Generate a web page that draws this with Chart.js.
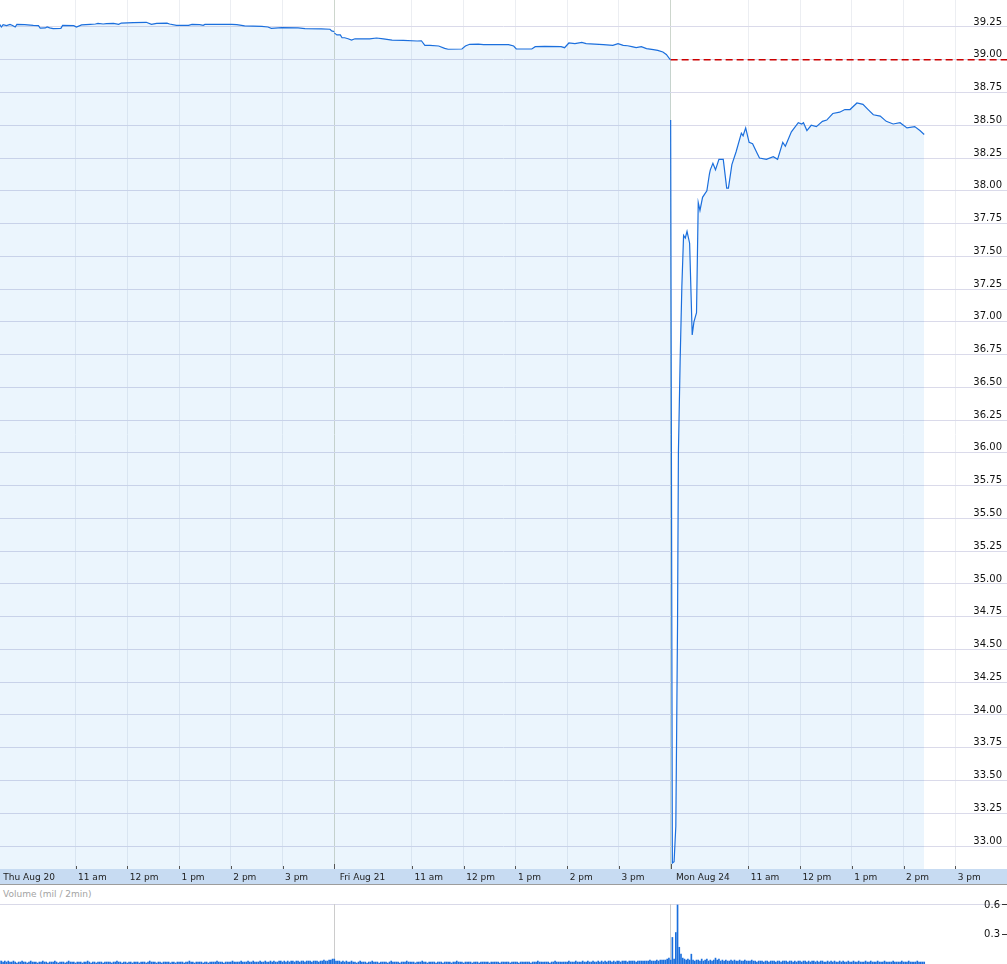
<!DOCTYPE html>
<html>
<head>
<meta charset="utf-8">
<script src="https://cdn.jsdelivr.net/npm/chart.js@4.4.1/dist/chart.umd.min.js"></script>
<style>
  body { margin: 0; background: #fff; }
  #wrap { position: relative; width: 1007px; height: 964px; overflow: hidden; font-family: 'DejaVu Sans', Verdana, sans-serif; }
  #priceChart { position: absolute; left: 0; top: 0; }
  #volTitle { position: absolute; left: 3px; top: 888px; font-size: 9px; line-height: 12px; color: #a3a3a3; }
  #volLine { position: absolute; left: 0; top: 904px; width: 1007px; height: 1px; background: #d9d9e8; }
  #volChart { position: absolute; left: 0; top: 890px; }
</style>
</head>
<body>
<div id="wrap">
  <canvas id="priceChart" width="1007" height="885"></canvas>
  <div id="volTitle">Volume (mil / 2min)</div>
  <div id="volLine"></div>
  <canvas id="volChart" width="1007" height="74"></canvas>
</div>
<script>
const days = ['Thu', 'Fri', 'Mon'];

const tickTimes = ['Thu 9:30', 'Thu 11:00', 'Thu 12:00', 'Thu 13:00', 'Thu 14:00', 'Thu 15:00',
  'Fri 9:30', 'Fri 11:00', 'Fri 12:00', 'Fri 13:00', 'Fri 14:00', 'Fri 15:00',
  'Mon 9:30', 'Mon 11:00', 'Mon 12:00', 'Mon 13:00', 'Mon 14:00', 'Mon 15:00'];
const tickLabels = ['Thu Aug 20', '11 am', '12 pm', '1 pm', '2 pm', '3 pm',
  'Fri Aug 21', '11 am', '12 pm', '1 pm', '2 pm', '3 pm',
  'Mon Aug 24', '11 am', '12 pm', '1 pm', '2 pm', '3 pm'];
const dayTimes = ['Thu 9:30', 'Fri 9:30', 'Mon 9:30'];

const priceTicks = [33.00, 33.25, 33.50, 33.75, 34.00, 34.25, 34.50, 34.75, 35.00, 35.25, 35.50, 35.75, 36.00,
  36.25, 36.50, 36.75, 37.00, 37.25, 37.50, 37.75, 38.00, 38.25, 38.50, 38.75, 39.00, 39.25];
const volumeTicks = [0.3, 0.6];
const prevClose = 39.00;

// price, Thu Aug 20
const thuTimes = ['9:32', '9:34', '9:36', '9:40', '9:44', '9:47', '9:50', '9:52', '10:01', '10:11', '10:17', '10:19',
  '10:25', '10:27', '10:30', '10:34', '10:43', '10:45', '10:58', '11:01', '11:07', '11:17', '11:23', '11:26', '11:32',
  '11:36', '11:44', '11:50', '11:53', '12:07', '12:22', '12:28', '12:34', '12:46', '12:49', '12:57', '13:11', '13:15',
  '13:24', '13:28', '13:30', '14:01', '14:07', '14:16', '14:36', '14:43', '14:47', '14:59', '15:18', '15:26', '15:45',
  '15:55', '15:57', '16:00'];
const thuPrices = [39.270, 39.250, 39.268, 39.260, 39.270, 39.262, 39.250, 39.270, 39.268, 39.262, 39.260, 39.242,
  39.243, 39.250, 39.243, 39.237, 39.240, 39.262, 39.260, 39.250, 39.266, 39.270, 39.273, 39.278, 39.273,
  39.275, 39.278, 39.270, 39.280, 39.283, 39.286, 39.270, 39.278, 39.280, 39.273, 39.263, 39.263, 39.270,
  39.268, 39.263, 39.270, 39.270, 39.268, 39.258, 39.255, 39.250, 39.240, 39.245, 39.243, 39.238, 39.235,
  39.233, 39.220, 39.215];

// price, Fri Aug 21
const friTimes = ['9:30', '9:33', '9:37', '9:39', '9:42', '9:46', '9:50', '9:54', '10:11', '10:19', '10:27', '10:37',
  '10:50', '11:06', '11:11', '11:15', '11:21', '11:31', '11:38', '11:42', '11:58', '12:02', '12:07', '12:17', '12:23',
  '12:42', '12:52', '12:58', '13:01', '13:19', '13:23', '13:34', '13:53', '13:57', '14:02', '14:09', '14:17', '14:22',
  '14:32', '14:42', '14:53', '14:59', '15:05', '15:10', '15:15', '15:20', '15:26', '15:32', '15:40', '15:45', '15:51',
  '15:55', '15:59', '16:00'];
const friPrices = [39.205, 39.190, 39.190, 39.168, 39.168, 39.160, 39.150, 39.160, 39.160, 39.166, 39.160, 39.150,
  39.148, 39.143, 39.145, 39.110, 39.110, 39.105, 39.087, 39.080, 39.082, 39.105, 39.118, 39.120, 39.115,
  39.115, 39.115, 39.105, 39.082, 39.082, 39.100, 39.102, 39.100, 39.092, 39.128, 39.123, 39.133, 39.123,
  39.120, 39.115, 39.110, 39.123, 39.110, 39.107, 39.100, 39.092, 39.100, 39.085, 39.077, 39.072, 39.059,
  39.040, 39.005, 39.000];

// price, Mon Aug 24
const monTimes = ['9:30', '9:32', '9:34', '9:36', '9:37', '9:38', '9:39', '9:41', '9:43', '9:45', '9:47', '9:49',
  '9:52', '9:55', '9:57', '10:00', '10:02', '10:04', '10:07', '10:10', '10:12', '10:15', '10:16', '10:19', '10:22',
  '10:26', '10:31', '10:35', '10:37', '10:41', '10:46', '10:52', '10:54', '10:57', '11:01', '11:05', '11:10', '11:13',
  '11:21', '11:29', '11:34', '11:40', '11:43', '11:50', '11:58', '12:02', '12:04', '12:08', '12:13', '12:19', '12:26',
  '12:31', '12:38', '12:46', '12:52', '12:58', '13:06', '13:13', '13:19', '13:25', '13:33', '13:40', '13:48', '13:56',
  '14:04', '14:13', '14:19', '14:24'];
const monPrices = [38.54, 32.87, 32.88, 33.15, 33.90, 34.70, 36.00, 36.70, 37.27, 37.66, 37.64, 37.69,
  37.60, 36.90, 37.00, 37.07, 37.91, 37.85, 37.95, 37.98, 38.00, 38.13, 38.16, 38.21, 38.16,
  38.24, 38.24, 38.02, 38.02, 38.20, 38.30, 38.44, 38.42, 38.48, 38.37, 38.36, 38.29, 38.25,
  38.24, 38.26, 38.24, 38.37, 38.34, 38.45, 38.52, 38.51, 38.52, 38.46, 38.50, 38.49, 38.53,
  38.54, 38.59, 38.60, 38.62, 38.62, 38.67, 38.66, 38.62, 38.58, 38.57, 38.53, 38.51, 38.52,
  38.48, 38.49, 38.46, 38.43];

// volume in millions, one bar per 2 minutes from 9:30
const thuVolume = [
  0.04, 0.03, 0.03, 0.02, 0.03, 0.02, 0.03, 0.02, 0.02, 0.03, 0.02, 0.01, 0.02, 0.02, 0.03,
  0.02, 0.02, 0.01, 0.02, 0.03, 0.02, 0.02, 0.02, 0.01, 0.02, 0.02, 0.03, 0.02, 0.02, 0.01,
  0.02, 0.02, 0.02, 0.03, 0.02, 0.01, 0.02, 0.02, 0.02, 0.01, 0.02, 0.03, 0.02, 0.02, 0.02,
  0.01, 0.02, 0.02, 0.02, 0.01, 0.02, 0.02, 0.03, 0.02, 0.01, 0.02, 0.02, 0.01, 0.02, 0.02,
  0.02, 0.01, 0.02, 0.02, 0.02, 0.02, 0.01, 0.02, 0.02, 0.03, 0.02, 0.02, 0.01, 0.02, 0.02,
  0.01, 0.02, 0.02, 0.01, 0.02, 0.02, 0.02, 0.01, 0.02, 0.02, 0.02, 0.01, 0.02, 0.03, 0.02,
  0.02, 0.02, 0.01, 0.02, 0.02, 0.01, 0.02, 0.02, 0.02, 0.02, 0.01, 0.02, 0.02, 0.01, 0.02,
  0.02, 0.02, 0.02, 0.01, 0.02, 0.02, 0.03, 0.02, 0.02, 0.01, 0.02, 0.02, 0.02, 0.02, 0.01,
  0.02, 0.02, 0.01, 0.02, 0.02, 0.02, 0.02, 0.03, 0.02, 0.02, 0.02, 0.01, 0.02, 0.02, 0.02,
  0.02, 0.03, 0.02, 0.02, 0.02, 0.02, 0.03, 0.02, 0.02, 0.02, 0.03, 0.02, 0.02, 0.03, 0.02,
  0.02, 0.02, 0.03, 0.02, 0.02, 0.03, 0.02, 0.02, 0.03, 0.02, 0.03, 0.02, 0.02, 0.03, 0.03,
  0.02, 0.03, 0.02, 0.03, 0.02, 0.03, 0.03, 0.02, 0.03, 0.03, 0.02, 0.03, 0.03, 0.02, 0.03,
  0.03, 0.03, 0.02, 0.03, 0.03, 0.03, 0.02, 0.03, 0.03, 0.04, 0.03, 0.03, 0.04, 0.04, 0.05];
const friVolume = [
  0.05, 0.03, 0.03, 0.03, 0.02, 0.03, 0.02, 0.03, 0.02, 0.02, 0.03, 0.02, 0.02, 0.01, 0.02,
  0.03, 0.02, 0.02, 0.02, 0.01, 0.02, 0.02, 0.03, 0.02, 0.02, 0.02, 0.01, 0.02, 0.02, 0.02,
  0.02, 0.01, 0.02, 0.03, 0.02, 0.02, 0.02, 0.02, 0.01, 0.02, 0.02, 0.02, 0.03, 0.02, 0.02,
  0.02, 0.02, 0.01, 0.02, 0.02, 0.02, 0.03, 0.02, 0.02, 0.01, 0.02, 0.02, 0.02, 0.02, 0.01,
  0.02, 0.02, 0.02, 0.01, 0.02, 0.02, 0.02, 0.02, 0.01, 0.02, 0.02, 0.03, 0.02, 0.02, 0.02,
  0.01, 0.02, 0.02, 0.02, 0.02, 0.01, 0.02, 0.02, 0.02, 0.01, 0.02, 0.02, 0.02, 0.02, 0.02,
  0.01, 0.02, 0.02, 0.02, 0.02, 0.02, 0.01, 0.02, 0.02, 0.02, 0.02, 0.02, 0.01, 0.02, 0.02,
  0.02, 0.02, 0.01, 0.02, 0.02, 0.02, 0.02, 0.02, 0.02, 0.01, 0.02, 0.02, 0.02, 0.03, 0.02,
  0.02, 0.02, 0.02, 0.02, 0.02, 0.01, 0.02, 0.02, 0.03, 0.02, 0.02, 0.02, 0.02, 0.02, 0.02,
  0.02, 0.03, 0.02, 0.02, 0.02, 0.03, 0.02, 0.02, 0.02, 0.03, 0.02, 0.02, 0.03, 0.02, 0.02,
  0.03, 0.02, 0.02, 0.03, 0.02, 0.03, 0.02, 0.03, 0.02, 0.03, 0.03, 0.02, 0.03, 0.02, 0.03,
  0.03, 0.02, 0.03, 0.03, 0.03, 0.02, 0.03, 0.03, 0.03, 0.03, 0.02, 0.03, 0.03, 0.03, 0.03,
  0.03, 0.03, 0.03, 0.04, 0.03, 0.03, 0.03, 0.04, 0.03, 0.04, 0.04, 0.04, 0.04, 0.05, 0.06];
const monVolume = [
  0.04, 0.27, 0.05, 0.32, 0.60, 0.17, 0.10, 0.06, 0.05, 0.04, 0.05, 0.04, 0.10, 0.04, 0.03,
  0.04, 0.04, 0.03, 0.05, 0.03, 0.04, 0.05, 0.03, 0.04, 0.03, 0.04, 0.06, 0.04, 0.05, 0.03,
  0.04, 0.03, 0.04, 0.03, 0.03, 0.04, 0.03, 0.04, 0.03, 0.03, 0.04, 0.03, 0.03, 0.04, 0.03,
  0.03, 0.03, 0.04, 0.03, 0.03, 0.02, 0.03, 0.03, 0.03, 0.02, 0.03, 0.03, 0.02, 0.03, 0.03,
  0.03, 0.02, 0.03, 0.03, 0.02, 0.03, 0.03, 0.03, 0.02, 0.03, 0.03, 0.02, 0.03, 0.02, 0.03,
  0.03, 0.02, 0.03, 0.03, 0.02, 0.03, 0.02, 0.03, 0.03, 0.02, 0.03, 0.02, 0.03, 0.03, 0.02,
  0.02, 0.03, 0.02, 0.03, 0.02, 0.03, 0.02, 0.02, 0.03, 0.02, 0.03, 0.02, 0.02, 0.03, 0.02,
  0.02, 0.03, 0.02, 0.02, 0.03, 0.02, 0.02, 0.02, 0.03, 0.02, 0.02, 0.03, 0.02, 0.02, 0.02,
  0.03, 0.02, 0.02, 0.02, 0.03, 0.02, 0.02, 0.02, 0.02, 0.03, 0.02, 0.02, 0.02, 0.02, 0.03,
  0.02, 0.02, 0.02, 0.03, 0.02, 0.02, 0.02, 0.02, 0.03, 0.02, 0.02, 0.02, 0.02];

// x axis is in trading minutes: each session 9:30-16:00 is 390 minutes, sessions back to back
function toMinutes(t) {
  const [day, hm] = t.split(' ');
  const [h, m] = hm.split(':').map(Number);
  return days.indexOf(day) * 390 + h * 60 + m - 570;
}

const X_MIN = 2.4;
const X_MAX = toMinutes('Mon 16:00');
// volume panel keeps a 5px strip on the right for its tick marks
const VOL_X_MAX = X_MIN + (X_MAX - X_MIN) * 1002 / 1007;

function pricePoints(day, times, prices) {
  return times.map((t, i) => ({ x: toMinutes(day + ' ' + t), y: prices[i] }));
}
function volumePoints(day, vols) {
  const start = toMinutes(day + ' 9:30');
  return vols.map((v, i) => ({ x: start + i * 2, y: v }));
}

const priceData = [
  ...pricePoints('Thu', thuTimes, thuPrices),
  ...pricePoints('Fri', friTimes, friPrices),
  ...pricePoints('Mon', monTimes, monPrices)
];
const volumeData = [
  ...volumePoints('Thu', thuVolume),
  ...volumePoints('Fri', friVolume),
  ...volumePoints('Mon', monVolume)
];

const dayTickIdx = new Set(dayTimes.map(t => tickTimes.indexOf(t)));

Chart.defaults.font.family = "'DejaVu Sans', Verdana, sans-serif";

// scales should not push the plot area in to make room for edge labels
function noPad(s) {
  s.paddingLeft = 0;
  s.paddingRight = 0;
  s.paddingTop = 0;
  s.paddingBottom = 0;
}

const axisBand = {
  id: 'axisBand',
  beforeDraw(chart) {
    const { ctx, chartArea } = chart;
    ctx.save();
    ctx.fillStyle = '#c7dbf2';
    ctx.fillRect(0, chartArea.bottom, chart.width, 15);
    ctx.fillStyle = '#9c9c9c';
    ctx.fillRect(0, chartArea.bottom + 15, chart.width, 1);
    ctx.restore();
  },
  afterDraw(chart) {
    const { ctx, chartArea, scales: { x } } = chart;
    ctx.save();
    ctx.strokeStyle = '#555';
    ctx.lineWidth = 1;
    x.ticks.forEach((t, i) => {
      const px = Math.round(x.getPixelForValue(t.value)) + 0.5;
      const len = dayTickIdx.has(i) ? 5 : 3;
      ctx.beginPath();
      ctx.moveTo(px, chartArea.bottom - len);
      ctx.lineTo(px, chartArea.bottom);
      ctx.stroke();
    });
    ctx.restore();
  }
};

new Chart(document.getElementById('priceChart'), {
  type: 'line',
  data: {
    datasets: [{
      data: priceData,
      borderColor: '#1b6fdd',
      borderWidth: 1.2,
      backgroundColor: 'rgba(0,128,230,0.08)',
      fill: 'start',
      pointRadius: 0,
      tension: 0,
      segment: {
        // no stroke across the weekend gap
        borderColor: c => c.p0.parsed.x === c.p1.parsed.x ? 'rgba(0,0,0,0)' : undefined
      }
    }, {
      data: [{ x: toMinutes('Mon 9:30'), y: prevClose }, { x: toMinutes('Mon 16:00'), y: prevClose }],
      borderColor: '#cc0000',
      borderWidth: 1.3,
      borderDash: [7, 4],
      pointRadius: 0,
      fill: false
    }]
  },
  options: {
    responsive: false,
    animation: false,
    layout: { padding: 0 },
    plugins: { legend: { display: false }, tooltip: { enabled: false } },
    scales: {
      x: {
        type: 'linear',
        min: X_MIN,
        max: X_MAX,
        afterBuildTicks: s => { s.ticks = tickTimes.map(t => ({ value: toMinutes(t) })); },
        afterFit: s => { s.height = 16; noPad(s); },
        border: { display: false },
        grid: {
          drawTicks: false,
          color: c => dayTickIdx.has(c.index) ? '#cdd6cd' : '#eceef2'
        },
        ticks: {
          autoSkip: false,
          maxRotation: 0,
          align: 'start',
          labelOffset: 2.5,
          padding: 3,
          color: '#222',
          font: { size: 9 },
          callback: (v, i) => (dayTickIdx.has(i) ? ' ' : '') + tickLabels[i]
        }
      },
      y: {
        position: 'right',
        min: 32.8245,
        max: 39.456,
        afterBuildTicks: s => { s.ticks = priceTicks.map(v => ({ value: v })); },
        afterFit: s => { s.width = 0; noPad(s); },
        border: { display: false },
        grid: { drawTicks: false, color: '#dadaea' },
        ticks: {
          mirror: true,
          padding: -5,
          labelOffset: -5,
          color: '#111',
          font: { size: 10 },
          callback: v => v.toFixed(2)
        }
      }
    }
  },
  plugins: [axisBand]
});

new Chart(document.getElementById('volChart'), {
  type: 'bar',
  data: {
    datasets: [{
      data: volumeData,
      backgroundColor: '#1b6fdd',
      barThickness: 1
    }]
  },
  options: {
    responsive: false,
    animation: false,
    layout: { padding: { top: 14, left: 0, right: 0, bottom: 0 } },
    plugins: { legend: { display: false }, tooltip: { enabled: false } },
    scales: {
      x: {
        type: 'linear',
        offset: false,
        min: X_MIN,
        max: VOL_X_MAX,
        afterBuildTicks: s => { s.ticks = dayTimes.map(t => ({ value: toMinutes(t) })); },
        afterFit: s => { s.height = 0; noPad(s); },
        border: { display: false },
        grid: { offset: false, drawTicks: false, color: '#cccccc' },
        ticks: { display: false }
      },
      y: {
        position: 'right',
        min: 0,
        max: 0.61,
        afterBuildTicks: s => { s.ticks = volumeTicks.map(v => ({ value: v })); },
        afterFit: s => { s.width = 5; noPad(s); },
        border: { display: false },
        grid: { drawOnChartArea: false, drawTicks: true, tickLength: 5, color: '#333' },
        ticks: {
          mirror: true,
          padding: -2,
          color: '#111',
          font: { size: 10 },
          callback: v => v.toFixed(1)
        }
      }
    }
  }
});
</script>
</body>
</html>
